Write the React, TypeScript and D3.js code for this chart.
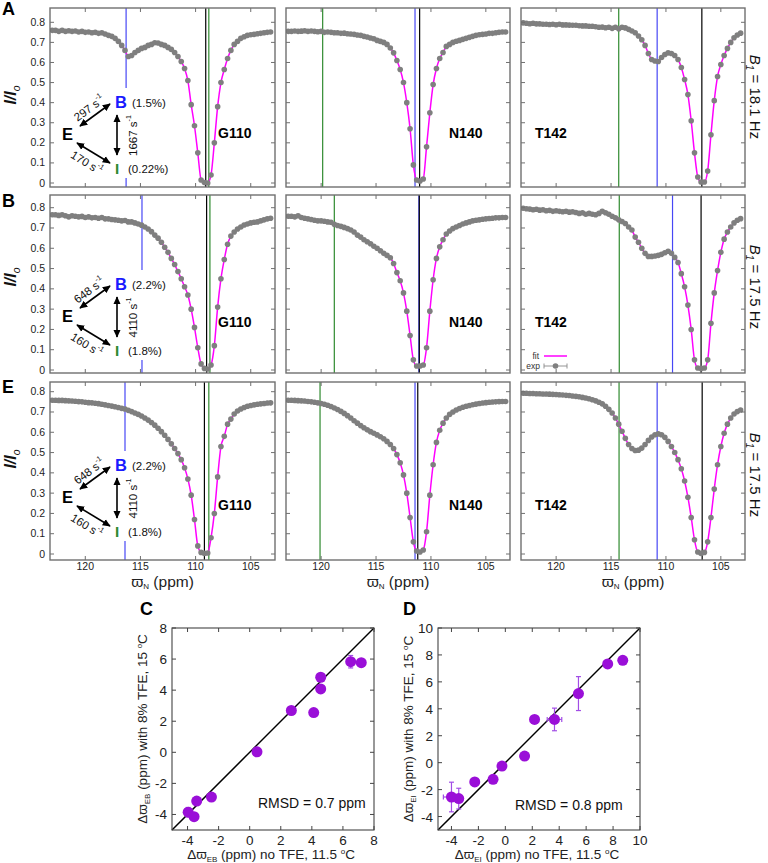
import React from "react";
import * as d3 from "d3";

// Offsets of the CEST saturation field (ppm), shared by all profiles
const OFFSETS = [
  123.0, 122.7, 122.4, 122.1, 121.8, 121.5, 121.2, 120.9, 120.6, 120.3,
  120.0, 119.7, 119.4, 119.1, 118.8, 118.5, 118.2, 117.9, 117.6, 117.3,
  117.0, 116.7, 116.4, 116.1, 115.8, 115.5, 115.2, 114.9, 114.6, 114.3,
  114.0, 113.7, 113.4, 113.1, 112.8, 112.5, 112.2, 111.9, 111.6, 111.3,
  111.0, 110.7, 110.4, 110.1, 109.8, 109.5, 109.2, 108.9, 108.6, 108.3,
  108.0, 107.7, 107.4, 107.1, 106.8, 106.5, 106.2, 105.9, 105.6, 105.3,
  105.0, 104.7, 104.4, 104.1, 103.8, 103.5, 103.2,
];

// I/Io profiles, row A (B1 = 18.1 Hz)
const G110_A = [
  0.760, 0.760, 0.755, 0.760, 0.755, 0.758, 0.755, 0.757, 0.752, 0.755,
  0.750, 0.752, 0.748, 0.750, 0.745, 0.748, 0.742, 0.735, 0.730, 0.720,
  0.705, 0.685, 0.660, 0.630, 0.635, 0.650, 0.660, 0.670, 0.675, 0.685,
  0.690, 0.698, 0.697, 0.690, 0.685, 0.675, 0.665, 0.650, 0.630, 0.605,
  0.570, 0.510, 0.390, 0.285, 0.150, 0.015, 0.002, 0.000, 0.040, 0.200,
  0.380, 0.500, 0.565, 0.620, 0.660, 0.690, 0.705, 0.720, 0.728, 0.735,
  0.738, 0.740, 0.743, 0.745, 0.748, 0.750, 0.752,
];
const N140_A = [
  0.755, 0.755, 0.757, 0.755, 0.756, 0.758, 0.755, 0.757, 0.755, 0.753,
  0.755, 0.750, 0.752, 0.750, 0.748, 0.748, 0.745, 0.746, 0.743, 0.742,
  0.740, 0.737, 0.735, 0.730, 0.727, 0.722, 0.718, 0.710, 0.705, 0.700,
  0.690, 0.672, 0.648, 0.610, 0.565, 0.500, 0.400, 0.270, 0.090, 0.015,
  0.010, 0.020, 0.180, 0.350, 0.490, 0.570, 0.620, 0.650, 0.680, 0.690,
  0.700, 0.706, 0.710, 0.715, 0.720, 0.725, 0.730, 0.735, 0.738, 0.740,
  0.742, 0.745, 0.745, 0.748, 0.750, 0.752, 0.752,
];
const T142_A = [
  0.797, 0.795, 0.793, 0.795, 0.792, 0.792, 0.790, 0.790, 0.789, 0.790,
  0.788, 0.790, 0.787, 0.787, 0.786, 0.785, 0.785, 0.783, 0.782, 0.782,
  0.780, 0.780, 0.778, 0.775, 0.776, 0.773, 0.775, 0.770, 0.775, 0.768,
  0.775, 0.772, 0.765, 0.757, 0.748, 0.732, 0.713, 0.685, 0.645, 0.615,
  0.607, 0.605, 0.625, 0.640, 0.648, 0.645, 0.635, 0.615, 0.575, 0.515,
  0.440, 0.310, 0.150, 0.030, 0.005, 0.005, 0.060, 0.240, 0.410, 0.530,
  0.590, 0.635, 0.670, 0.700, 0.723, 0.737, 0.746,
];

// Row B (B1 = 17.5 Hz)
const G110_B = [
  0.765, 0.765, 0.762, 0.765, 0.760, 0.755, 0.760, 0.758, 0.755, 0.757,
  0.752, 0.755, 0.750, 0.752, 0.748, 0.752, 0.745, 0.745, 0.742, 0.740,
  0.738, 0.735, 0.737, 0.730, 0.730, 0.725, 0.720, 0.714, 0.705, 0.695,
  0.682, 0.665, 0.650, 0.630, 0.605, 0.580, 0.550, 0.520, 0.485, 0.450,
  0.410, 0.370, 0.300, 0.210, 0.110, 0.030, 0.008, 0.005, 0.025, 0.120,
  0.310, 0.450, 0.545, 0.620, 0.660, 0.680, 0.695, 0.705, 0.715, 0.720,
  0.725, 0.728, 0.730, 0.735, 0.740, 0.745, 0.748,
];
const N140_B = [
  0.758, 0.758, 0.755, 0.760, 0.752, 0.748, 0.745, 0.742, 0.738, 0.735,
  0.735, 0.733, 0.730, 0.728, 0.718, 0.712, 0.708, 0.703, 0.697, 0.690,
  0.680, 0.665, 0.655, 0.642, 0.632, 0.622, 0.610, 0.600, 0.588, 0.575,
  0.565, 0.553, 0.525, 0.480, 0.440, 0.380, 0.290, 0.170, 0.050, 0.020,
  0.020, 0.025, 0.110, 0.290, 0.445, 0.550, 0.607, 0.642, 0.670, 0.685,
  0.697, 0.705, 0.712, 0.720, 0.725, 0.730, 0.735, 0.738, 0.740, 0.743,
  0.745, 0.747, 0.748, 0.750, 0.750, 0.752, 0.752,
];
const T142_B = [
  0.797, 0.795, 0.793, 0.790, 0.792, 0.788, 0.790, 0.785, 0.787, 0.782,
  0.785, 0.782, 0.780, 0.782, 0.778, 0.780, 0.776, 0.772, 0.775, 0.768,
  0.772, 0.768, 0.765, 0.772, 0.782, 0.775, 0.768, 0.758, 0.750, 0.740,
  0.732, 0.722, 0.705, 0.690, 0.655, 0.630, 0.600, 0.575, 0.560, 0.560,
  0.562, 0.565, 0.570, 0.578, 0.585, 0.575, 0.555, 0.530, 0.475, 0.410,
  0.320, 0.200, 0.050, 0.010, 0.008, 0.010, 0.050, 0.230, 0.380, 0.490,
  0.580, 0.645, 0.680, 0.705, 0.725, 0.738, 0.746,
];

// Row E (B1 = 17.5 Hz)
const G110_E = [
  0.758, 0.758, 0.757, 0.757, 0.756, 0.755, 0.754, 0.753, 0.751, 0.750,
  0.748, 0.746, 0.745, 0.743, 0.741, 0.738, 0.735, 0.732, 0.729, 0.726,
  0.722, 0.718, 0.715, 0.708, 0.702, 0.695, 0.688, 0.680, 0.670, 0.660,
  0.648, 0.635, 0.620, 0.603, 0.585, 0.565, 0.543, 0.520, 0.495, 0.465,
  0.425, 0.370, 0.290, 0.170, 0.040, 0.008, 0.003, 0.005, 0.080, 0.200,
  0.380, 0.530, 0.580, 0.640, 0.665, 0.690, 0.705, 0.715, 0.722, 0.728,
  0.732, 0.735, 0.738, 0.740, 0.742, 0.744, 0.745,
];
const N140_E = [
  0.758, 0.758, 0.757, 0.756, 0.755, 0.754, 0.752, 0.750, 0.748, 0.745,
  0.742, 0.738, 0.733, 0.727, 0.720, 0.712, 0.703, 0.693, 0.682, 0.670,
  0.657, 0.645, 0.633, 0.622, 0.612, 0.603, 0.595, 0.587, 0.578, 0.568,
  0.555, 0.540, 0.520, 0.490, 0.450, 0.390, 0.300, 0.180, 0.060, 0.015,
  0.010, 0.020, 0.110, 0.290, 0.440, 0.550, 0.610, 0.645, 0.670, 0.688,
  0.700, 0.710, 0.717, 0.723, 0.728, 0.732, 0.736, 0.739, 0.742, 0.744,
  0.746, 0.748, 0.749, 0.750, 0.751, 0.752, 0.752,
];
const T142_E = [
  0.792, 0.792, 0.791, 0.791, 0.790, 0.790, 0.789, 0.789, 0.788, 0.787,
  0.786, 0.785, 0.784, 0.782, 0.781, 0.779, 0.777, 0.775, 0.772, 0.769,
  0.765, 0.760, 0.755, 0.748, 0.740, 0.728, 0.713, 0.695, 0.670, 0.640,
  0.605, 0.570, 0.540, 0.520, 0.510, 0.512, 0.522, 0.540, 0.560, 0.577,
  0.588, 0.592, 0.588, 0.575, 0.555, 0.530, 0.500, 0.465, 0.420, 0.360,
  0.280, 0.180, 0.070, 0.010, 0.003, 0.008, 0.060, 0.180, 0.320, 0.440,
  0.530, 0.595, 0.640, 0.670, 0.690, 0.702, 0.710,
];

const RESIDUES = ["G110", "N140", "T142"];
const ROW_LETTERS = ["A", "B", "E"];
const B1_VALUES = ["18.1", "17.5", "17.5"];
const Y_TICKS = [0, 0.1, 0.2, 0.3, 0.4, 0.5, 0.6, 0.7, 0.8];
const X_TICKS = [120, 115, 110, 105];

// Chemical shifts (ppm) of the ground state E, state B and state I, per row / residue
const SHIFT_E = [[109.08, 111.03, 106.73], [109.0, 111.06, 106.8], [109.2, 111.2, 106.7]];
const SHIFT_B = [[116.3, 111.45, 110.8], [114.86, 111.1, 109.4], [116.4, 111.45, 110.8]];
const SHIFT_I = [[108.8, 119.86, 114.3], [108.7, 118.8, 114.25], [108.8, 120.1, 114.27]];

// Exchange scheme: rate constants (s-1) and populations (%)
const K_EB = ["297", "648", "648"];
const K_BI = ["1667", "4110", "4110"];
const K_EI = ["170", "160", "160"];
const POP_B = ["1.5", "2.2", "2.2"];
const POP_I = ["0.22", "1.8", "1.8"];

// Panel C: Δϖ_EB without vs with TFE
const C_X = [6.5, 7.18, 4.57, 4.57, 2.68, 4.12, 0.47, -2.46, -3.41, -3.96, -3.58];
const C_Y = [5.83, 5.77, 4.83, 4.08, 2.69, 2.56, 0.03, -2.88, -3.14, -3.85, -4.14];
const C_XERR = [0, 0, 0, 0, 0, 0, 0, 0, 0, 0.15, 0];
const C_YERR = [0.4, 0.1, 0.1, 0.1, 0.1, 0.1, 0.05, 0.1, 0.1, 0.3, 0.1];

// Panel D: Δϖ_EI without vs with TFE
const D_X = [8.72, 7.6, 5.43, 3.65, 2.17, 1.43, -0.25, -0.91, -2.27, -3.46, -4.0];
const D_Y = [7.6, 7.33, 5.13, 3.21, 3.21, 0.49, -0.25, -1.24, -1.43, -2.67, -2.55];
const D_XERR = [0, 0, 0, 0.54, 0, 0, 0, 0, 0, 0, 0.6];
const D_YERR = [0.1, 0.1, 1.26, 0.84, 0.1, 0.1, 0.1, 0.25, 0.25, 0.77, 1.1];

const SERIES = [
  [G110_A, N140_A, T142_A],
  [G110_B, N140_B, T142_B],
  [G110_E, N140_E, T142_E],
];

// ---- layout ----
const FONT = "Arial, 'Liberation Sans', Helvetica, sans-serif";
const PPM_DOMAIN: [number, number] = [123.2, 102.8];
const COL_X = [50, 286, 521];
const COL_W = [225, 224, 224];
const ROW_TOP = [8, 195, 382];
const ROW_BOT = [187, 373, 560];
const ROW_ZERO = [183, 370, 554];
const ROW_EIGHT = [22.3, 207.7, 391.7];
const INSET_Y = [108, 290, 471];
const LETTER_Y = [15, 207, 393];
const YLABEL_Y = [95, 277, 459];
const B1_Y = [97, 287, 475];
const RES_Y = [138, 327, 510];
const RES_X = [218, 449, 535];

const DOT = "#7f7f7f";
const FIT = "#ff00ff";
const BLUE = "#4747f5";
const GREEN = "#2f8a2f";
const FRAME = "#707070";
const PURPLE = "#9a0fd8";
const PURPLE_ERR = "#a24de6";

function Sup({ children }: { children: React.ReactNode }) {
  return (
    <>
      <tspan dy={-4} fontSize="0.62em">{children}</tspan>
      <tspan dy={4}>{"\u200A"}</tspan>
    </>
  );
}

function Spectrum({ row, col }: { row: number; col: number }) {
  const values = SERIES[row][col];
  const left = COL_X[col];
  const right = COL_X[col] + COL_W[col];
  const top = ROW_TOP[row];
  const bot = ROW_BOT[row];
  const x = d3.scaleLinear().domain(PPM_DOMAIN).range([left, right]);
  const y = d3.scaleLinear().domain([0, 0.8]).range([ROW_ZERO[row], ROW_EIGHT[row]]);
  const pts: [number, number][] = OFFSETS.map((p, i) => [x(p), y(values[i])]);
  const fitPath = d3.line().curve(d3.curveMonotoneX)(pts) || "";
  const clipId = `clip-${row}-${col}`;
  const markers: [number, string][] = [
    [SHIFT_I[row][col], GREEN],
    [SHIFT_B[row][col], BLUE],
    [SHIFT_E[row][col], "#000"],
  ];
  const tick = 4;
  return (
    <g>
      <defs>
        <clipPath id={clipId}>
          <rect x={left} y={top} width={right - left} height={bot - top} />
        </clipPath>
      </defs>
      <g clipPath={`url(#${clipId})`}>
        {markers.map(([ppm, color], i) => (
          <line key={i} x1={x(ppm)} x2={x(ppm)} y1={top} y2={bot} stroke={color} strokeWidth={1.2} />
        ))}
        <path d={fitPath} fill="none" stroke={FIT} strokeWidth={1.5} />
        {pts.map(([px, py], i) => (
          <circle key={i} cx={px} cy={py} r={2.8} fill={DOT} />
        ))}
      </g>
      {/* ticks on all four sides */}
      {X_TICKS.map((t) => (
        <g key={`xt${t}`} stroke={FRAME} strokeWidth={1}>
          <line x1={x(t)} x2={x(t)} y1={bot} y2={bot - tick} />
          <line x1={x(t)} x2={x(t)} y1={top} y2={top + tick} />
        </g>
      ))}
      {Y_TICKS.map((t) => (
        <g key={`yt${t}`} stroke={FRAME} strokeWidth={1}>
          <line x1={left} x2={left + tick} y1={y(t)} y2={y(t)} />
          <line x1={right} x2={right - tick} y1={y(t)} y2={y(t)} />
        </g>
      ))}
      <rect x={left} y={top} width={right - left} height={bot - top} fill="none" stroke={FRAME} strokeWidth={1.4} />
      {col === 0 &&
        Y_TICKS.map((t) => (
          <text key={`yl${t}`} x={left - 5} y={y(t) + 3.5} textAnchor="end" fontSize={10.5} fill="#222">
            {t === 0 ? "0" : t.toFixed(1)}
          </text>
        ))}
      {row === 2 && (
        <g>
          {X_TICKS.map((t) => (
            <text key={`xl${t}`} x={x(t)} y={570} textAnchor="middle" fontSize={10.5} fill="#222">
              {t}
            </text>
          ))}
          <text x={(left + right) / 2} y={587} textAnchor="middle" fontSize={15.5} fill="#222">
            {"\u03D6"}
            <tspan fontSize={8} dy={2}>N</tspan>
            <tspan dy={-2}> (ppm)</tspan>
          </text>
        </g>
      )}
      <text x={RES_X[col]} y={RES_Y[row]} fontSize={14} fontWeight="bold" fill="#000">
        {RESIDUES[col]}
      </text>
    </g>
  );
}

function Inset({ row }: { row: number }) {
  const by = INSET_Y[row];
  return (
    <g fontFamily={FONT}>
      <rect x={56} y={by - 20} width={118} height={90} fill="#fff" />
      <text x={62} y={by + 32} fontSize={16.5} fontWeight="bold" fill="#000">E</text>
      <text x={115} y={by} fontSize={16.5} fontWeight="bold" fill="#1a1aff">B</text>
      <text x={132} y={by - 1} fontSize={11.5} fill="#111">({POP_B[row]}%)</text>
      <text x={115} y={by + 66} fontSize={15} fontWeight="bold" fill={GREEN}>I</text>
      <text x={128} y={by + 65} fontSize={11.5} fill="#111">({POP_I[row]}%)</text>
      <g stroke="#000" strokeWidth={1.6} markerStart="url(#ah)" markerEnd="url(#ah)">
        <line x1={80} y1={by + 18} x2={110} y2={by - 4} />
        <line x1={117} y1={by + 7} x2={117} y2={by + 47} />
        <line x1={77} y1={by + 35} x2={110} y2={by + 55} />
      </g>
      <text transform={`translate(89.5,${by}) rotate(-36)`} textAnchor="middle" dominantBaseline="central" fontSize={11.5} fill="#111">
        {K_EB[row]} s<Sup>-1</Sup>
      </text>
      <text transform={`translate(133,${by + 27}) rotate(-90)`} textAnchor="middle" dominantBaseline="central" fontSize={11.5} fill="#111">
        {K_BI[row]} s<Sup>-1</Sup>
      </text>
      <text transform={`translate(87,${by + 55}) rotate(32)`} textAnchor="middle" dominantBaseline="central" fontSize={11.5} fill="#111">
        {K_EI[row]} s<Sup>-1</Sup>
      </text>
    </g>
  );
}

function Legend() {
  const yFit = ROW_ZERO[1] - 14;
  const yExp = ROW_ZERO[1] - 4;
  return (
    <g fontSize={8.5} fill="#333">
      <text x={539} y={yFit + 3} textAnchor="end">fit</text>
      <line x1={544} x2={567} y1={yFit} y2={yFit} stroke={FIT} strokeWidth={1.5} />
      <text x={540} y={yExp + 3} textAnchor="end">exp</text>
      <g stroke="#888" strokeWidth={0.9}>
        <line x1={544} x2={567} y1={yExp} y2={yExp} />
        <line x1={544} x2={544} y1={yExp - 2.5} y2={yExp + 2.5} />
        <line x1={567} x2={567} y1={yExp - 2.5} y2={yExp + 2.5} />
      </g>
      <circle cx={555.5} cy={yExp} r={2.8} fill={DOT} />
    </g>
  );
}

interface ScatterProps {
  left: number;
  top: number;
  size: number;
  domain: [number, number];
  ticks: number[];
  xs: number[];
  ys: number[];
  xerr: number[];
  yerr: number[];
  letter: string;
  letterX: number;
  sub: string;
  rmsd: string;
  rmsdDx: number;
  rmsdDy: number;
}

function Scatter(p: ScatterProps) {
  const { left, top, size } = p;
  const right = left + size;
  const bot = top + size;
  const x = d3.scaleLinear().domain(p.domain).range([left, right]);
  const y = d3.scaleLinear().domain(p.domain).range([bot, top]);
  const tick = 4;
  const cap = 2.5;
  return (
    <g fontFamily={FONT}>
      <text x={p.letterX} y={615} fontSize={18} fontWeight="bold">{p.letter}</text>
      <line x1={x(p.domain[0])} y1={y(p.domain[0])} x2={x(p.domain[1])} y2={y(p.domain[1])} stroke="#000" strokeWidth={1.5} />
      {p.ticks.map((t) => (
        <g key={t} stroke="#444" strokeWidth={1}>
          <line x1={x(t)} x2={x(t)} y1={bot} y2={bot - tick} />
          <line x1={x(t)} x2={x(t)} y1={top} y2={top + tick} />
          <line x1={left} x2={left + tick} y1={y(t)} y2={y(t)} />
          <line x1={right} x2={right - tick} y1={y(t)} y2={y(t)} />
        </g>
      ))}
      <rect x={left} y={top} width={size} height={size} fill="none" stroke="#444" strokeWidth={1.1} />
      {p.ticks.map((t) => (
        <g key={`l${t}`} fontSize={13.5} fill="#222">
          <text x={x(t)} y={bot + 15} textAnchor="middle">{t}</text>
          <text x={left - 5} y={y(t) + 5} textAnchor="end">{t}</text>
        </g>
      ))}
      <g stroke={PURPLE_ERR} strokeWidth={1.2}>
        {p.xs.map((xv, i) => (
          <g key={i}>
            {p.yerr[i] > 0.2 && (
              <>
                <line x1={x(xv)} x2={x(xv)} y1={y(p.ys[i] - p.yerr[i])} y2={y(p.ys[i] + p.yerr[i])} />
                <line x1={x(xv) - cap} x2={x(xv) + cap} y1={y(p.ys[i] - p.yerr[i])} y2={y(p.ys[i] - p.yerr[i])} />
                <line x1={x(xv) - cap} x2={x(xv) + cap} y1={y(p.ys[i] + p.yerr[i])} y2={y(p.ys[i] + p.yerr[i])} />
              </>
            )}
            {p.xerr[i] > 0.2 && (
              <>
                <line x1={x(xv - p.xerr[i])} x2={x(xv + p.xerr[i])} y1={y(p.ys[i])} y2={y(p.ys[i])} />
                <line x1={x(xv - p.xerr[i])} x2={x(xv - p.xerr[i])} y1={y(p.ys[i]) - cap} y2={y(p.ys[i]) + cap} />
                <line x1={x(xv + p.xerr[i])} x2={x(xv + p.xerr[i])} y1={y(p.ys[i]) - cap} y2={y(p.ys[i]) + cap} />
              </>
            )}
          </g>
        ))}
      </g>
      {p.xs.map((xv, i) => (
        <circle key={i} cx={x(xv)} cy={y(p.ys[i])} r={5.5} fill={PURPLE} />
      ))}
      <text x={left + p.rmsdDx} y={top + p.rmsdDy} fontSize={14} fill="#111">{p.rmsd}</text>
      <text x={(left + right) / 2 - 2} y={859} textAnchor="middle" fontSize={13.5} fill="#222">
        {"\u0394\u03D6"}
        <tspan fontSize={8} dy={3}>{p.sub}</tspan>
        <tspan dy={-3}> (ppm) no TFE, 11.5 </tspan>
        <tspan dy={-5} fontSize={8}>o</tspan>
        <tspan dy={5}>C</tspan>
      </text>
      <text transform={`translate(${left - 25},${(top + bot) / 2}) rotate(-90)`} textAnchor="middle" fontSize={13.5} fill="#222">
        {"\u0394\u03D6"}
        <tspan fontSize={8} dy={3}>{p.sub}</tspan>
        <tspan dy={-3}> (ppm) with 8% TFE, 15 </tspan>
        <tspan dy={-5} fontSize={8}>o</tspan>
        <tspan dy={5}>C</tspan>
      </text>
    </g>
  );
}

export default function App() {
  return (
    <svg
      width={768}
      height={863}
      viewBox="0 0 768 863"
      style={{ position: "absolute", left: 0, top: 0, display: "block", background: "#fff" }}
      fontFamily={FONT}
    >
      <defs>
        <marker id="ah" viewBox="0 0 10 10" refX={9} refY={5} markerWidth={8} markerHeight={8} markerUnits="userSpaceOnUse" orient="auto-start-reverse">
          <path d="M0,0.5 L10,5 L0,9.5 z" fill="#000" />
        </marker>
      </defs>
      <rect x={0} y={0} width={768} height={863} fill="#fff" />
      {[0, 1, 2].map((row) => (
        <g key={row}>
          {[0, 1, 2].map((col) => (
            <Spectrum key={col} row={row} col={col} />
          ))}
          <Inset row={row} />
          <text x={2} y={LETTER_Y[row]} fontSize={18} fontWeight="bold">{ROW_LETTERS[row]}</text>
          <text transform={`translate(16,${YLABEL_Y[row]}) rotate(-90)`} textAnchor="middle" fontSize={16} fill="#111">
            <tspan fontStyle="italic" fontWeight="bold">I/I</tspan>
            <tspan fontStyle="italic" fontSize={10.5} dy={4}>o</tspan>
          </text>
          <text transform={`translate(750,${B1_Y[row]}) rotate(90)`} textAnchor="middle" fontSize={15} fill="#111">
            <tspan fontStyle="italic">B</tspan>
            <tspan fontStyle="italic" fontSize={10} dy={4}>1</tspan>
            <tspan dy={-4}>{` = ${B1_VALUES[row]} Hz`}</tspan>
          </text>
        </g>
      ))}
      <Legend />
      <Scatter
        left={172}
        top={628}
        size={202}
        domain={[-5, 8]}
        ticks={[-4, -2, 0, 2, 4, 6, 8]}
        xs={C_X}
        ys={C_Y}
        xerr={C_XERR}
        yerr={C_YERR}
        letter="C"
        letterX={140}
        sub="EB"
        rmsd="RMSD = 0.7 ppm"
        rmsdDx={86}
        rmsdDy={180}
      />
      <Scatter
        left={438}
        top={628}
        size={202}
        domain={[-5, 10]}
        ticks={[-4, -2, 0, 2, 4, 6, 8, 10]}
        xs={D_X}
        ys={D_Y}
        xerr={D_XERR}
        yerr={D_YERR}
        letter="D"
        letterX={403}
        sub="EI"
        rmsd="RMSD = 0.8 ppm"
        rmsdDx={77}
        rmsdDy={182}
      />
    </svg>
  );
}
